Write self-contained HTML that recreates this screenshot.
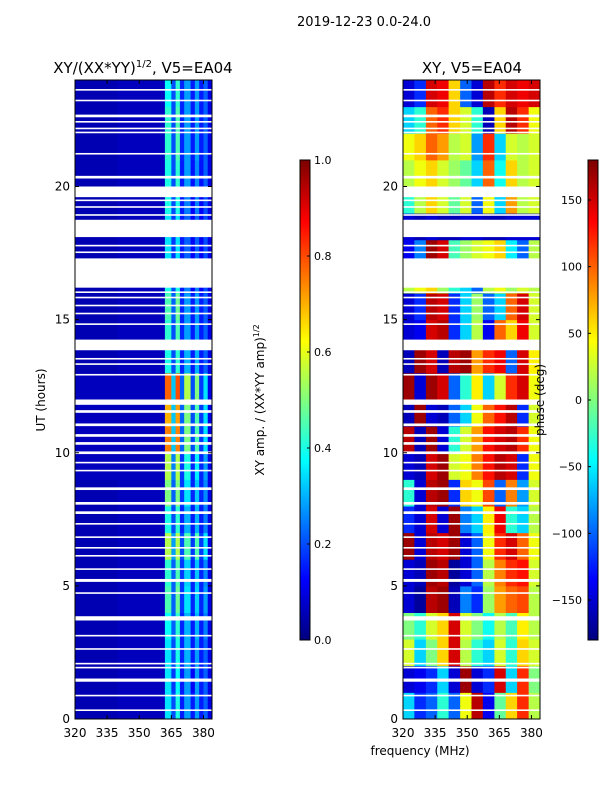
<!DOCTYPE html>
<html><head><meta charset="utf-8"><style>
body{margin:0;background:#fff;width:600px;height:800px;overflow:hidden;font-family:"Liberation Sans",sans-serif}
svg text{font-family:"DejaVu Sans","Liberation Sans",sans-serif;fill:#000}
</style></head><body>
<svg id="fig" width="600" height="800" viewBox="0 0 600 800" xmlns="http://www.w3.org/2000/svg">
<text x="364" y="26" font-size="13" text-anchor="middle">2019-12-23 0.0-24.0</text>
<text x="143" y="73" font-size="15" text-anchor="middle">XY/(XX*YY)<tspan font-size="10" dy="-6">1/2</tspan><tspan dy="6">, V5=EA04</tspan></text>
<text x="472" y="73" font-size="15" text-anchor="middle">XY, V5=EA04</text>
<text transform="translate(45,400) rotate(-90)" font-size="12" text-anchor="middle">UT (hours)</text>
<text x="420" y="755" font-size="12" text-anchor="middle">frequency (MHz)</text>
<text transform="translate(264,400) rotate(-90)" font-size="12" text-anchor="middle">XY amp. / (XX*YY amp)<tspan font-size="8" dy="-5">1/2</tspan></text>
<g id="layer"></g>
<text transform="translate(544,400) rotate(-90)" font-size="12" text-anchor="middle">phase (deg)</text>
</svg>
<script>
const timeRows=[0,1,2,3,4,5,6,7,8,9,10,11,12,13,14,15,16,17,18,19,20,21,22,23];
const ampFreqEdges=[320,340,362,365,367,369,371,374,376,378,380,382,384];
const ampValues=[
[0.05,0.06,0.35,0.20,0.40,0.15,0.28,0.15,0.28,0.15,0.22,0.10],
[0.05,0.06,0.35,0.18,0.38,0.15,0.28,0.12,0.28,0.15,0.22,0.10],
[0.05,0.06,0.35,0.20,0.40,0.16,0.30,0.15,0.28,0.15,0.22,0.10],
[0.05,0.06,0.38,0.22,0.42,0.16,0.30,0.15,0.30,0.15,0.25,0.10],
[0.05,0.06,0.45,0.22,0.48,0.18,0.35,0.16,0.33,0.16,0.28,0.10],
[0.05,0.06,0.42,0.22,0.45,0.18,0.33,0.16,0.32,0.16,0.26,0.10],
[0.05,0.06,0.55,0.28,0.55,0.20,0.45,0.18,0.45,0.18,0.35,0.10],
[0.05,0.06,0.40,0.20,0.42,0.16,0.30,0.15,0.30,0.15,0.25,0.10],
[0.05,0.06,0.50,0.22,0.50,0.18,0.35,0.16,0.32,0.16,0.26,0.10],
[0.06,0.06,0.55,0.25,0.55,0.18,0.40,0.16,0.36,0.16,0.28,0.10],
[0.06,0.06,0.75,0.32,0.75,0.22,0.50,0.20,0.45,0.18,0.35,0.10],
[0.06,0.06,0.70,0.32,0.72,0.22,0.50,0.20,0.45,0.18,0.35,0.10],
[0.06,0.06,0.78,0.32,0.80,0.22,0.55,0.20,0.50,0.18,0.35,0.10],
[0.05,0.06,0.40,0.20,0.42,0.16,0.30,0.15,0.30,0.15,0.22,0.10],
[0.05,0.06,0.42,0.20,0.45,0.16,0.28,0.15,0.28,0.15,0.22,0.10],
[0.05,0.06,0.45,0.22,0.48,0.16,0.28,0.15,0.28,0.15,0.22,0.10],
[0.05,0.06,0.40,0.20,0.40,0.15,0.25,0.12,0.25,0.12,0.20,0.10],
[0.05,0.06,0.35,0.18,0.35,0.15,0.22,0.12,0.22,0.12,0.20,0.10],
[0.05,0.06,0.35,0.18,0.35,0.15,0.22,0.12,0.22,0.12,0.20,0.10],
[0.05,0.06,0.40,0.20,0.40,0.15,0.25,0.12,0.25,0.12,0.20,0.10],
[0.05,0.06,0.40,0.20,0.42,0.15,0.28,0.14,0.26,0.14,0.22,0.10],
[0.05,0.06,0.42,0.20,0.45,0.16,0.28,0.15,0.28,0.15,0.22,0.10],
[0.05,0.06,0.42,0.20,0.45,0.16,0.28,0.15,0.28,0.15,0.22,0.10],
[0.05,0.06,0.38,0.20,0.42,0.16,0.28,0.15,0.28,0.15,0.22,0.10]];
const phaseFreqEdges=[320,325.3,330.7,336,341.3,346.7,352,357.3,362.7,368,373.3,378.7,384];
const phaseValues=[
[-60,-120,-100,-30,-100,40,160,-140,-10,60,120,20],
[-150,-140,-120,-60,-150,170,-150,-120,150,-60,120,0],
[30,-60,0,60,150,20,-30,-60,30,-30,60,30],
[0,-30,30,60,150,30,0,-40,20,-20,50,20],
[-150,-170,160,170,-160,-90,-120,10,80,100,110,20],
[-150,-160,170,160,-170,-150,-100,20,90,120,130,30],
[170,-150,160,150,170,-150,-100,40,120,150,100,40],
[-120,-150,150,-150,170,-90,-60,50,140,-30,-60,20],
[-30,-150,160,170,-120,60,40,110,-100,90,-80,30],
[-150,-160,150,170,30,40,90,130,160,150,-120,40],
[160,-160,170,-150,-30,30,80,130,150,160,120,40],
[-160,170,-150,-160,-100,-60,40,100,130,160,-120,30],
[170,-150,170,150,-100,-30,50,-60,30,120,150,40],
[-160,170,150,-160,160,170,80,120,140,-100,150,50],
[-150,-140,150,160,-120,-60,20,-140,100,60,140,30],
[-150,-120,160,150,-120,-60,10,-100,-60,100,150,30],
[20,40,60,10,-30,-60,-100,20,40,10,30,20],
[-140,-90,170,150,-20,10,30,40,60,-50,-100,20],
[-150,-160,-150,-160,-160,-150,-150,-160,-160,-150,-150,-150],
[-30,20,60,30,-10,30,-100,40,-60,80,20,30],
[20,40,60,30,10,-10,-60,100,-40,60,20,30],
[40,60,100,80,20,30,-80,120,-60,30,20,30],
[-60,-30,100,120,60,30,-30,-160,60,160,120,40],
[-150,-120,150,140,60,-100,-150,160,120,150,140,150]];
const gapStart=[0.3,0.85,1.4,1.9,2.05,2.6,3.1,3.7,4.7,5.15,5.6,6.1,6.4,6.8,7.3,7.7,8.05,8.6,9.3,9.6,9.95,10.3,10.6,11.0,11.5,11.8,12.9,13.3,13.5,13.85,14.8,15.2,15.5,15.8,16.0,16.2,17.5,17.75,18.1,18.9,19.2,19.45,19.6,20.3,21.2,22.0,22.15,22.4,22.6,23.2,23.6];
const gapEnd=[0.36,0.91,1.52,1.96,2.11,2.66,3.16,3.86,4.76,5.26,5.66,6.16,6.46,6.86,7.36,7.8,8.15,8.7,9.36,9.66,10.05,10.4,10.7,11.1,11.6,12.0,12.96,13.36,13.56,14.25,14.86,15.26,15.56,15.86,16.06,17.3,17.56,17.81,18.75,18.96,19.26,19.51,20.0,20.4,21.26,22.06,22.21,22.46,22.7,23.26,23.66];
const timeTicks=[0,5,10,15,20];
const freqTicks=[320,335,350,365,380];
const ampTicks=[0.0,0.2,0.4,0.6,0.8,1.0];
const phaseTicks=[-150,-100,-50,0,50,100,150];

const NS="http://www.w3.org/2000/svg";
const layer=document.getElementById('layer');
function jet(v){v=Math.max(0,Math.min(1,v));
 const f=t=>Math.round(255*Math.max(0,Math.min(1,1.5-Math.abs(4*v-t))));
 return `rgb(${f(3)},${f(2)},${f(1)})`;}
function mk(tag,attrs){const e=document.createElementNS(NS,tag);for(const k in attrs)e.setAttribute(k,attrs[k]);layer.appendChild(e);return e;}
const yT=t=>719-t*(639/24);
function panel(x0,x1,edges,vals,norm,prefix){
 const xF=f=>x0+(f-320)*(x1-x0)/64;
 timeRows.forEach((t,i)=>{vals[i].forEach((v,j)=>{
  const r=mk('rect',{x:xF(edges[j]),y:yT(t+1),width:xF(edges[j+1])-xF(edges[j])+0.5,height:yT(t)-yT(t+1)+0.5,fill:jet(norm(v))});
  
  
 });});
 gapStart.forEach((g,i)=>{
  const r=mk('rect',{x:x0,y:yT(gapEnd[i]),width:x1-x0,height:Math.max(1.5,yT(g)-yT(gapEnd[i])),fill:'#fff'});
  
  
 });
 const fr=mk('rect',{x:x0,y:80,width:x1-x0,height:639,fill:'none',stroke:'#000','stroke-width':1});
 
 
 timeTicks.forEach(t=>{
  mk('line',{x1:x0,x2:x0+4,y1:yT(t),y2:yT(t),stroke:'#000'});
  mk('line',{x1:x1,x2:x1-4,y1:yT(t),y2:yT(t),stroke:'#000'});
  const l=mk('text',{x:x0-5,y:yT(t)+4,'font-size':12,'text-anchor':'end'});l.textContent=t;
  
  
 });
 freqTicks.forEach(f=>{
  mk('line',{x1:xF(f),x2:xF(f),y1:719,y2:715,stroke:'#000'});
  mk('line',{x1:xF(f),x2:xF(f),y1:80,y2:84,stroke:'#000'});
  const l=mk('text',{x:xF(f),y:737,'font-size':12,'text-anchor':'middle'});l.textContent=f;
  
  
 });
}
panel(75,212,ampFreqEdges,ampValues,v=>v,'amp');
panel(403,540,phaseFreqEdges,phaseValues,v=>(v+180)/360,'phase');

function cbar(x,lo,hi,ticks,left,prefix,fmt){
 for(let k=0;k<160;k++){
  const r=mk('rect',{x:x,y:640-(k+1)*3,width:10,height:3.5,fill:jet(k/159)});
  
  
 }
 const o=mk('rect',{x:x,y:160,width:10,height:480,fill:'none',stroke:'#000'});
 
 
 ticks.forEach(t=>{const y=640-(t-lo)/(hi-lo)*480;
  mk('line',{x1:left?x:x+10,x2:left?x+3:x+7,y1:y,y2:y,stroke:'#000'});
  const l=mk('text',{x:left?x-6:x+14,y:y+4,'font-size':11,'text-anchor':left?'end':'start'});l.textContent=fmt(t);
  
  
 });
}
cbar(300,0,1,ampTicks,false,'amp',t=>t.toFixed(1));
cbar(588,-180,180,phaseTicks,true,'phase',t=>t<0?'\u2212'+(-t):''+t);
</script>
</body></html>
